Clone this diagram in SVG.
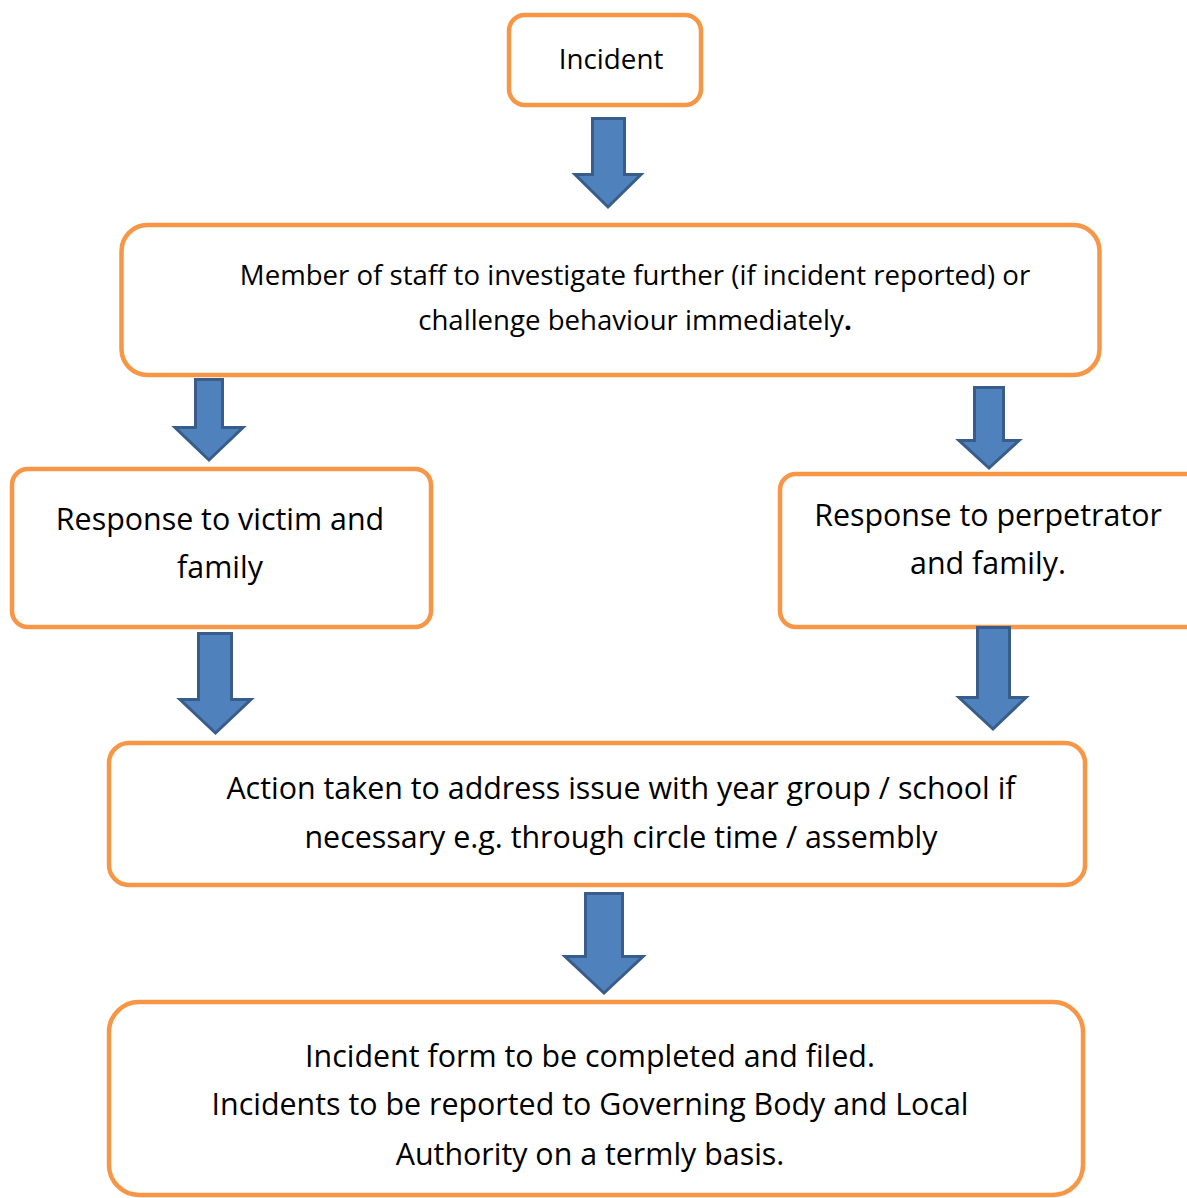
<svg xmlns="http://www.w3.org/2000/svg" width="1187" height="1198" viewBox="0 0 1187 1198">
<style>
.box{fill:#fff;stroke:#F79646;stroke-width:4.5}
.arr{fill:#4F81BD;stroke:#385D8A;stroke-width:3;stroke-linejoin:miter}
text{font-family:"Open Sans","Noto Sans","Liberation Sans",sans-serif;fill:#000;text-anchor:middle}
.t2{font-size:27.6px}
.ti{font-size:27.8px}
.t3{font-size:30.4px}
</style>
<rect width="1187" height="1198" fill="#fff"/>
<g id="n-incident">
<rect class="box" x="509" y="15" width="192" height="90" rx="16"/>
<text class="ti" x="611" y="69">Incident</text>
</g>
<g id="n-staff">
<rect class="box" x="121.5" y="225" width="978" height="150" rx="26"/>
<text class="t2" x="635" y="285">Member of staff to investigate further (if incident reported) or</text>
<text class="t2" x="635" y="330">challenge behaviour immediately<tspan font-weight="bold">.</tspan></text>
</g>
<g id="n-victim">
<rect class="box" x="12" y="469" width="419" height="158" rx="16"/>
<text class="t3" x="220" y="530">Response to victim and</text>
<text class="t3" x="220" y="578">family</text>
</g>
<g id="n-perp">
<rect class="box" x="780" y="474" width="440" height="153" rx="16"/>
<text class="t3" x="988" y="526">Response to perpetrator</text>
<text class="t3" x="988" y="574">and family.</text>
</g>
<g id="n-action">
<rect class="box" x="109" y="743" width="976" height="142" rx="20"/>
<text class="t3" x="621" y="799">Action taken to address issue with year group / school if</text>
<text class="t3" x="621" y="848">necessary e.g. through circle time / assembly</text>
</g>
<g id="n-form">
<rect class="box" x="109" y="1002" width="974" height="193" rx="30"/>
<text class="t3" x="590" y="1067">Incident form to be completed and filed.</text>
<text class="t3" x="590" y="1115">Incidents to be reported to Governing Body and Local</text>
<text class="t3" x="590" y="1165">Authority on a termly basis.</text>
</g>
<g id="connectors">
<polygon class="arr" points="592.5,118.5 624.5,118.5 624.5,174.5 641,174.5 608,207 575,174.5 592.5,174.5"/>
<polygon class="arr" points="195.5,379.5 222.5,379.5 222.5,427.5 243,427.5 209,460 175,427.5 195.5,427.5"/>
<polygon class="arr" points="198.5,633.5 231.5,633.5 231.5,699.5 251,699.5 215.5,733 180,699.5 198.5,699.5"/>
<polygon class="arr" points="974.5,387.5 1003.5,387.5 1003.5,440.5 1019,440.5 989,468 959,440.5 974.5,440.5"/>
<polygon class="arr" points="977.5,627.5 1009.5,627.5 1009.5,697.5 1026,697.5 993,729 959,697.5 977.5,697.5"/>
<polygon class="arr" points="585.5,893.5 622.5,893.5 622.5,956.5 643,956.5 604,993 565,956.5 585.5,956.5"/>
</g>
</svg>
